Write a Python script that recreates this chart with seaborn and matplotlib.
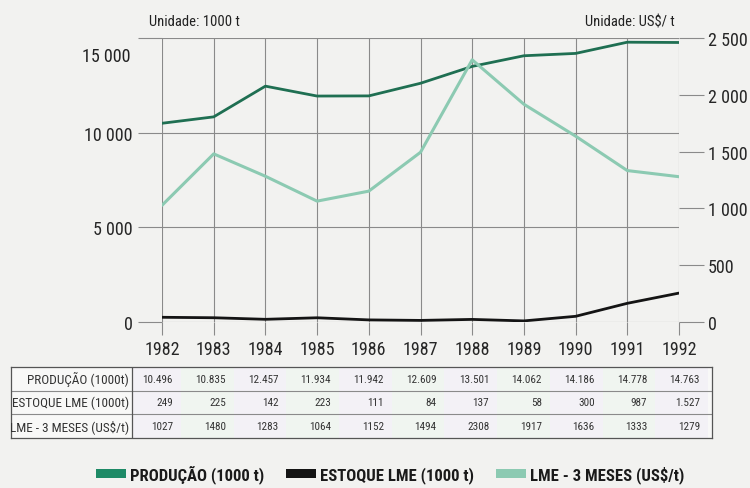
import matplotlib
matplotlib.use("Agg")
import matplotlib.pyplot as plt
from matplotlib.patches import Patch
import seaborn as sns

anos = [1982, 1983, 1984, 1985, 1986, 1987, 1988, 1989, 1990, 1991, 1992]
producao = [10496, 10835, 12457, 11934, 11942, 12609, 13501, 14062, 14186, 14778, 14763]
estoque = [249, 225, 142, 223, 111, 84, 137, 58, 300, 987, 1527]
lme = [1027, 1480, 1283, 1064, 1152, 1494, 2308, 1917, 1636, 1333, 1279]

nomes_tabela = ["PRODUÇÃO (1000t)", "ESTOQUE LME (1000t)", "LME - 3 MESES (US$/t)"]
nomes_legenda = ["PRODUÇÃO (1000 t)", "ESTOQUE LME (1000 t)", "LME - 3 MESES (US$/t)"]
ticks_esq = [0, 5000, 10000, 15000]
labels_esq = ["0", "5 000", "10 000", ""]
ticks_dir = [0, 500, 1000, 1500, 2000, 2500]
labels_dir = ["0", "500", "1 000", "1 500", "2 000", "2 500"]

COR_PROD = "#1f6f52"
COR_EST = "#141414"
COR_LME = "#8ccab2"
COR_GRADE = "#8a8a8a"
FUNDO = "#f2f2f0"

sns.set_theme(style="white")
plt.rcParams["font.family"] = ["Roboto Condensed", "DejaVu Sans"]
plt.rcParams["font.stretch"] = "condensed"


def fmt_ponto(v):
    return f"{v:,}".replace(",", ".")


W, H = 750, 489
fig = plt.figure(figsize=(7.5, 4.89), dpi=100, facecolor=FUNDO)

# plot area, in pixels of the reference
x0, x1, y0, y1 = 162, 679, 39, 323
ax = fig.add_axes([x0 / W, 1 - y1 / H, (x1 - x0) / W, (y1 - y0) / H])
ax.set_facecolor(FUNDO)
ax2 = ax.twinx()

sns.lineplot(x=anos, y=producao, ax=ax, color=COR_PROD, linewidth=2.0, legend=False)
sns.lineplot(x=anos, y=estoque, ax=ax, color=COR_EST, linewidth=2.0, legend=False)
sns.lineplot(x=anos, y=lme, ax=ax2, color=COR_LME, linewidth=2.2, legend=False)

ax.set_xlim(anos[0], anos[-1])
ax.set_ylim(0, 15000)
ax2.set_ylim(0, 2500)

ax.set_xticks(anos)
ax.set_xticklabels([str(a) for a in anos], fontsize=13)
ax.set_yticks(ticks_esq)
ax.set_yticklabels(labels_esq, fontsize=13)
ax2.set_yticks(ticks_dir)
ax2.set_yticklabels(labels_dir, fontsize=13)

ax.grid(True, axis="both", color=COR_GRADE, linewidth=0.8)
ax2.grid(False)
for a in (ax, ax2):
    for s in a.spines.values():
        s.set_visible(False)
    a.set_xlabel("")
    a.set_ylabel("")

ax.tick_params(axis="x", direction="out", length=9, width=0.8, color=COR_GRADE, pad=4, bottom=True)
ax.tick_params(axis="y", direction="out", length=17, width=0.8, color=COR_GRADE, pad=4, left=True)
ax2.tick_params(axis="y", direction="out", length=18, width=0.8, color=COR_GRADE, pad=3, right=True)

# the top left label sits below its line in the original
ax.annotate("15 000", xy=(0, 15000), xycoords=("axes fraction", "data"),
            xytext=(-23, -13), textcoords="offset points",
            ha="right", va="center", fontsize=13, color="#222222")

fig.text(149 / W, 1 - 22 / H, "Unidade: 1000 t", fontsize=10.5, ha="left", va="center", color="#222222")
fig.text(675 / W, 1 - 22 / H, "Unidade: US$/ t", fontsize=10.5, ha="right", va="center", color="#222222")

# table: own column scale, value right edges from px 173 to px 700
tx0, tx1, ty0, ty1 = 11, 712, 368, 439
c0, c1 = 173, 700
col = (c1 - c0) / (len(anos) - 1)
tax = fig.add_axes([tx0 / W, 1 - ty1 / H, (tx1 - tx0) / W, (ty1 - ty0) / H])
tax.set_xlim((tx0 - c0) / col, (tx1 - c0) / col)
tax.set_ylim(0, 3)
tax.set_facecolor("#f8f8f7")
tax.set_xticks([])
tax.set_yticks([])
for s in tax.spines.values():
    s.set_color("#555555")
    s.set_linewidth(0.9)
sep = (132 - c0) / col
for k in range(len(anos)):
    tint = "#f3f1f6" if k % 2 == 0 else "#f0f5f0"
    tax.axvspan(max(sep, k - 0.85), k + 0.15, color=tint, lw=0)
for r in (1, 2):
    tax.axhline(r, color="#8a8a8a", linewidth=0.8)
tax.axvline(sep, color="#555555", linewidth=0.9)

linhas = [
    [fmt_ponto(v) for v in producao],
    [fmt_ponto(v) for v in estoque],
    [str(v) for v in lme],
]
for i, (nome, vals) in enumerate(zip(nomes_tabela, linhas)):
    yc = 2.5 - i
    tax.text(sep - 0.06, yc, nome, ha="right", va="center", fontsize=9.5, color="#333333")
    for k, v in enumerate(vals):
        tax.text(k, yc, v, ha="right", va="center", fontsize=8, color="#333333")

handles = [
    Patch(facecolor="#1e8a66", edgecolor="none"),
    Patch(facecolor=COR_EST, edgecolor="none"),
    Patch(facecolor=COR_LME, edgecolor="none"),
]
leg = fig.legend(handles, nomes_legenda, loc="center", bbox_to_anchor=(0.52, 1 - 475 / H),
                 ncol=3, frameon=False, handlelength=1.8, handleheight=0.5,
                 handletextpad=0.25, columnspacing=1.3,
                 prop={"weight": "bold", "size": 12})
for t in leg.get_texts():
    t.set_color("#1a1a1a")

fig.savefig("out.png", dpi=100, facecolor=FUNDO)
